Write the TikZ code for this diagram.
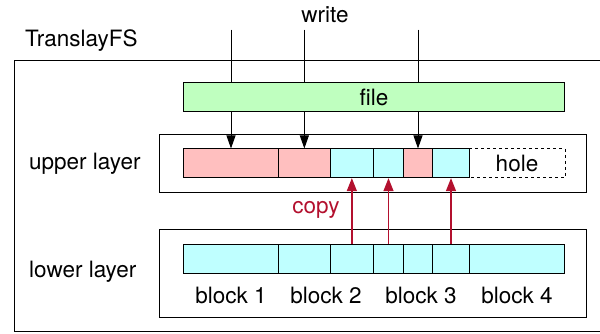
\documentclass[tikz,border=0pt]{standalone}
\usepackage{fontspec}
\setmainfont{TeX Gyre Heros}
\usetikzlibrary{arrows.meta}
\definecolor{pinkc}{HTML}{FFBFBF}
\definecolor{cyanc}{HTML}{BFFFFF}
\definecolor{greenc}{HTML}{BFFFBF}
\definecolor{copyred}{HTML}{B3102E}
\tikzset{
  txt/.style={font=\fontsize{22.5}{26}\selectfont, inner sep=0pt},
  blk/.style={draw=black, line width=1pt, inner sep=0pt, minimum height=28.7pt},
  layerbox/.style={draw=black, line width=1pt, inner sep=0pt, minimum width=427.7pt},
  writearrow/.style={line width=0.9pt, -{Triangle[length=13pt,width=9pt]}},
  copyarrow/.style={draw=copyred, line width=1.5pt, -{Triangle[length=13pt,width=10pt]}},
}
\begin{document}
\begin{tikzpicture}[x=1pt,y=-1pt]
\useasboundingbox (0,0) rectangle (600,333);
% outer TranslayFS box (right side runs off the picture)
\draw[line width=1pt] (600,60.7) -- (14.3,60.7) -- (14.3,331.7) -- (600,331.7);
\node[txt, anchor=west] (tfs) at (25,41) {TranslayFS};
\node[txt] (write) at (325,15) {write};

% layer boxes
\node[layerbox, minimum height=58.3pt] (upper) at (372.85,163.15) {};
\node[layerbox, minimum height=88pt] (lower) at (372.85,273.3) {};
\node[txt, anchor=west] (ul) at (29,163.5) {upper layer};
\node[txt, anchor=west] (ll) at (29,272) {lower layer};

% upper blocks
\node[blk, fill=pinkc, minimum width=95.4pt] (u1) at (231,163.3) {};
\node[blk, fill=pinkc, minimum width=51.3pt] (u2) at (304.35,163.3) {};
\node[blk, fill=cyanc, minimum width=43.7pt] (u3) at (351.85,163.3) {};
\node[blk, fill=cyanc, minimum width=29.6pt] (u4) at (388.5,163.3) {};
\node[blk, fill=pinkc, minimum width=29.4pt] (u5) at (418,163.3) {};
\node[blk, fill=cyanc, minimum width=36.6pt] (u6) at (451,163.3) {};
\node[txt, minimum width=95.4pt, minimum height=28.7pt] (uh) at (517,163.3) {hole};
\draw[dashed, line width=0.8pt] (uh.north west) -- (uh.north east) -- (uh.south east) -- (uh.south west);

% lower blocks
\node[blk, fill=cyanc, minimum width=95.4pt] (l1) at (231,258.8) {};
\node[blk, fill=cyanc, minimum width=51.3pt] (l2) at (304.35,258.8) {};
\node[blk, fill=cyanc, minimum width=43.7pt] (l3) at (351.85,258.8) {};
\node[blk, fill=cyanc, minimum width=29.6pt] (l4) at (388.5,258.8) {};
\node[blk, fill=cyanc, minimum width=29.4pt] (l5) at (418,258.8) {};
\node[blk, fill=cyanc, minimum width=36.6pt] (l6) at (451,258.8) {};
\node[blk, fill=cyanc, minimum width=95.4pt] (l7) at (517,258.8) {};

\node[txt] (b1) at (231,295) {block 1};
\node[txt] (b2) at (326,295) {block 2};
\node[txt] (b3) at (421,295) {block 3};
\node[txt] (b4) at (517,295) {block 4};

% write arrows
\coordinate (w1) at (231,29.5);
\coordinate (w2) at (304.35,29.5);
\coordinate (w3) at (418,29.5);
\draw[writearrow] (w1) -- (u1.north);
\draw[writearrow] (w2) -- (u2.north);
\draw[writearrow] (w3) -- (u5.north);

% file box drawn over the write lines
\node[draw=black, line width=1pt, fill=greenc, minimum width=381.2pt, minimum height=29pt, txt] (file) at (373.9,97.2) {file};

% copy arrows
\draw[copyarrow] (l3.north) -- (u3.south);
\draw[copyarrow] (l4.north) -- (u4.south);
\draw[copyarrow] (l6.north) -- (u6.south);
\node[txt, text=copyred] (copy) at (316,210) {copy};
\end{tikzpicture}
\end{document}
